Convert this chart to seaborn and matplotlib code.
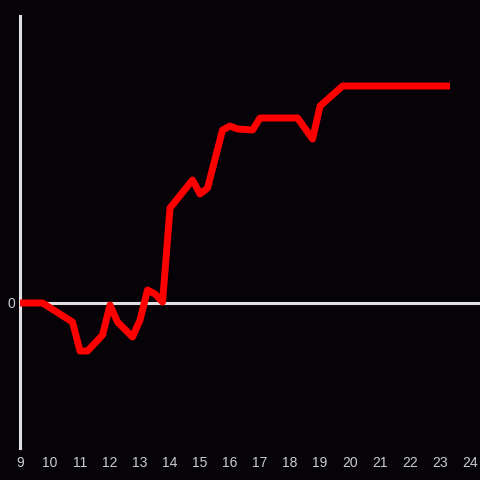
import numpy as np
import pandas as pd
import seaborn as sns
import matplotlib
matplotlib.use("Agg")
import matplotlib.pyplot as plt

# Data (hour of day vs. value)
hours = [9.0, 9.75, 10.75, 11.0, 11.25, 11.75, 12.0, 12.25, 12.75, 13.0, 13.25,
         13.5, 13.75, 14.0, 14.75, 15.0, 15.25, 15.75, 16.0, 16.25, 16.75, 17.0,
         18.25, 18.75, 19.0, 19.75, 23.33]
values = [0, 0, -19, -48, -48, -32, -2, -19, -34, -17, 13,
          9, 1, 95, 123, 109, 115, 173, 177, 174, 173, 185,
          185, 164, 197, 217, 217]
xticks = list(range(9, 25))

df = pd.DataFrame({"hour": hours, "value": values})

bg = "#050308"
fg = "#e0e0e0"

plt.rcParams['font.family'] = ['Liberation Sans', 'DejaVu Sans']

fig = plt.figure(figsize=(4.8, 4.8), dpi=100, facecolor=bg)
ax = fig.add_axes([20 / 480, 32 / 480, 460 / 480, 432 / 480])
ax.set_facecolor(bg)

# zero line
ax.axhline(0, color=fg, lw=2.2, zorder=1)

sns.lineplot(data=df, x="hour", y="value", ax=ax, color="#ff0000", lw=5.0,
             zorder=3, solid_joinstyle="round", solid_capstyle="butt")

ax.set_xlim(9, 24.33)
ax.set_ylim(-145, 287)
ax.set_xticks(xticks)
ax.set_xticklabels([str(t) for t in xticks])
ax.set_yticks([0])
ax.set_yticklabels(["0"])
ax.tick_params(axis="both", length=0, colors="#cccccc", labelsize=10)
ax.tick_params(axis="x", pad=6)
ax.tick_params(axis="y", pad=3.5)
ax.set_xlabel("")
ax.set_ylabel("")

for s in ["top", "right", "bottom"]:
    ax.spines[s].set_visible(False)
ax.spines["left"].set_color(fg)
ax.spines["left"].set_linewidth(2.2)

fig.savefig("out.png", dpi=100, facecolor=bg)
